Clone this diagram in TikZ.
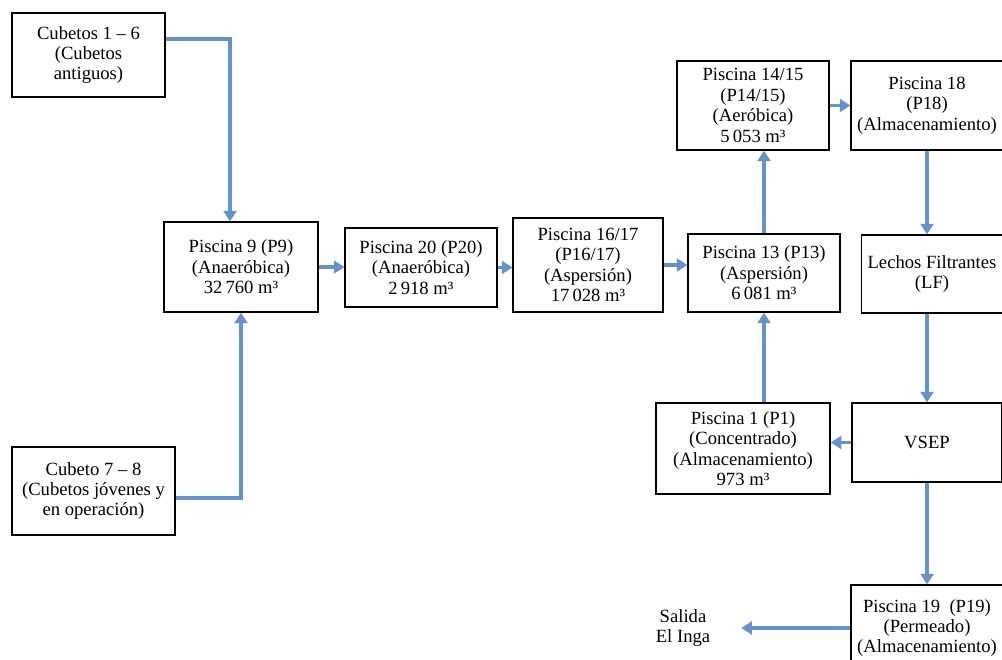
\documentclass[tikz,border=0pt]{standalone}
\usepackage{fontspec}
\setmainfont{Liberation Serif}
\usetikzlibrary{arrows.meta,shadows}
\definecolor{myBlue}{RGB}{98,147,204}

\begin{document}
\begin{tikzpicture}[
	pool/.style={draw, line width=0.8pt, fill=white, align=center, font=\fontsize{10.6}{11.6}\selectfont,
		drop shadow={shadow xshift=0.7pt, shadow yshift=-0.7pt, opacity=0.45}},
	flow/.style={myBlue, line width=2pt, -{Triangle[width=7.4pt,length=6pt]}}
	]
				\useasboundingbox (0,0) rectangle (20.04,-13.2);
				\draw (1.77,-1.10) node[pool, minimum width=3.06cm, minimum height=1.68cm] (C16) {Cubetos 1 – 6\\(Cubetos\\antiguos)};
				\draw (1.87,-9.82) node[pool, minimum width=3.26cm, minimum height=1.76cm] (C78) {Cubeto 7 – 8\\(Cubetos jóvenes y\\en operación)};
				\draw (4.82,-5.34) node[pool, minimum width=3.08cm, minimum height=1.80cm] (P9) {Piscina 9 (P9)\\(Anaeróbica)\\32\,760 m³};
				\draw (8.42,-5.35) node[pool, minimum width=3.04cm, minimum height=1.58cm] (P20) {Piscina 20 (P20)\\(Anaeróbica)\\2\,918 m³};
				\draw (11.76,-5.30) node[pool, minimum width=3.00cm, minimum height=1.88cm] (P1617) {Piscina 16/17\\(P16/17)\\(Aspersión)\\17\,028 m³};
				\draw (15.28,-5.46) node[pool, minimum width=3.04cm, minimum height=1.56cm] (P13) {Piscina 13 (P13)\\(Aspersión)\\6\,081 m³};
				\draw (15.06,-2.11) node[pool, minimum width=3.04cm, minimum height=1.78cm] (P1415) {Piscina 14/15\\(P14/15)\\(Aeróbica)\\5\,053 m³};
				\draw (18.54,-2.11) node[pool, minimum width=3.04cm, minimum height=1.78cm] (P18) {Piscina 18\\(P18)\\(Almacenamiento)};
				\draw (18.64,-5.48) node[pool, minimum width=2.80cm, minimum height=1.56cm] (LF) {Lechos Filtrantes\\(LF)};
				\draw (18.54,-8.85) node[pool, minimum width=3.00cm, minimum height=1.58cm] (VSEP) {VSEP};
				\draw (14.86,-8.97) node[pool, minimum width=3.48cm, minimum height=1.82cm] (P1) {Piscina 1 (P1)\\(Concentrado)\\(Almacenamiento)\\973 m³};
				\draw (18.54,-12.56) node[pool, minimum width=3.04cm, minimum height=1.72cm] (P19) {Piscina 19~ (P19)\\(Permeado)\\(Almacenamiento)};
				\draw (13.66,-12.56) node[align=center, font=\fontsize{10.6}{11.6}\selectfont] (out) {Salida\\El Inga};

				\draw[flow] ([yshift=3.2mm]C16.east) -| ([xshift=-2.2mm]P9.north);
				\draw[flow] ([yshift=-1.4mm]C78.east) -| (P9.south);
				\draw[flow] (P9.east) -- (P9.east -| P20.west);
				\draw[flow] (P20.east) -- (P20.east -| P1617.west);
				\draw[flow] (P1617.east) -- (P1617.east -| P13.west);
				\draw[flow] (P13.north) -- (P13.north |- P1415.south);
				\draw[flow] (P1415.east) -- (P1415.east -| P18.west);
				\draw[flow] (P18.south) -- (P18.south |- LF.north);
				\draw[flow] (VSEP.north |- LF.south) -- (VSEP.north);
				\draw[flow] (VSEP.west) -- (VSEP.west -| P1.east);
				\draw[flow] (P13.south |- P1.north) -- (P13.south);
				\draw[flow] (VSEP.south) -- (P19.north);
				\draw[flow, shorten >=5mm] (P19.west) -- (out.east);
			\end{tikzpicture}
\end{document}
